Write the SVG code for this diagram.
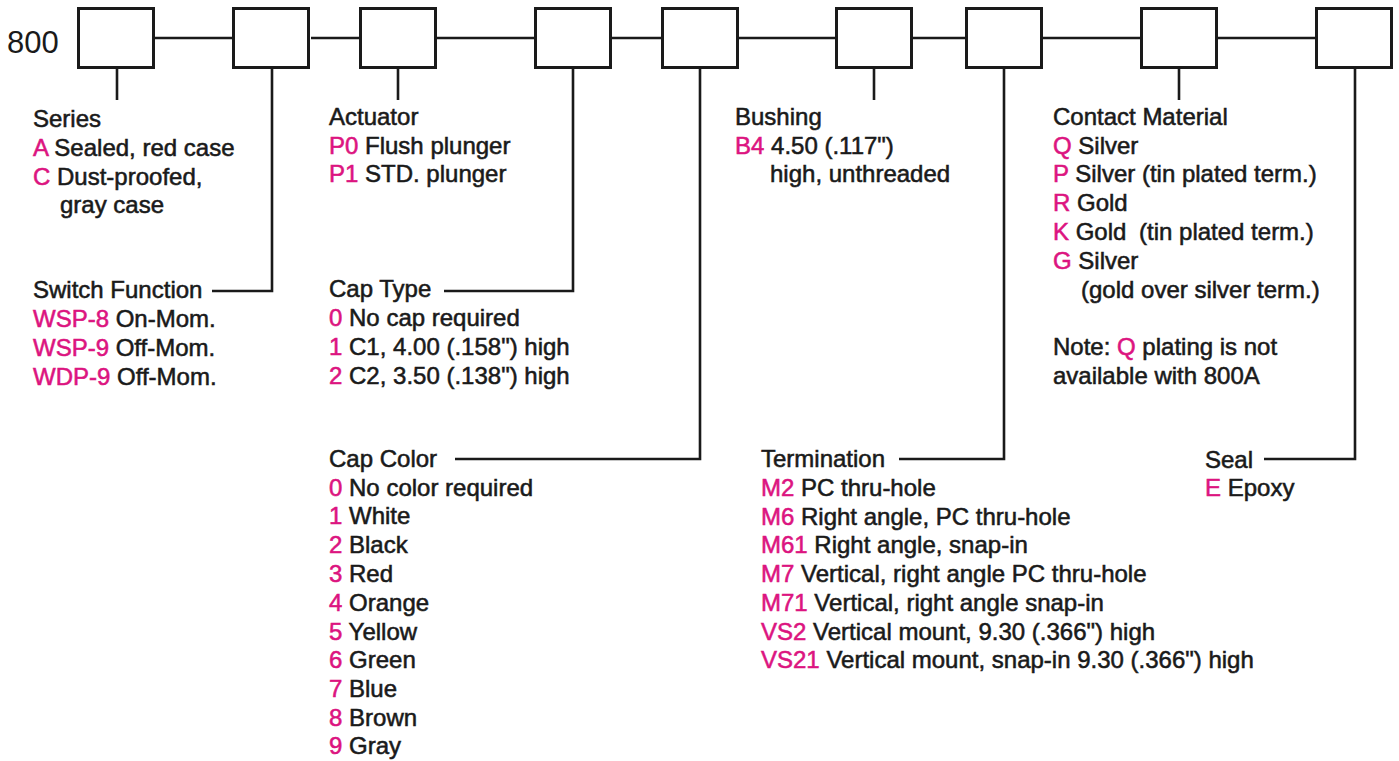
<svg xmlns="http://www.w3.org/2000/svg" width="1399" height="761" viewBox="0 0 1399 761">
<style>
.box{fill:#fff;stroke:#1a1a1a;stroke-width:3}
.ln{fill:none;stroke:#1a1a1a;stroke-width:2.6;stroke-linejoin:miter;stroke-linecap:butt}
text{font-family:"Liberation Sans",Arial,sans-serif;font-size:24px;fill:#1a1a1a;stroke:#1a1a1a;stroke-width:0.55}
.m{fill:#DC1480;stroke:#DC1480}
.big{font-size:31px;stroke-width:0}
</style>
<rect width="1399" height="761" fill="#fff"/>
<g id="connectors">
<path class="ln" d="M155 38H232M311 38H359M437 38H534M612 38H661M739 38H835M913 38H965M1043 38H1140M1218 38H1315"/>
<path class="ln" d="M117 69V100"/>
<path class="ln" d="M272 69V291H212"/>
<path class="ln" d="M398 69V100"/>
<path class="ln" d="M573 69V291H444"/>
<path class="ln" d="M700 69V459H455"/>
<path class="ln" d="M874 69V100"/>
<path class="ln" d="M1004 69V459H899"/>
<path class="ln" d="M1179 69V100"/>
<path class="ln" d="M1355 69V459H1264"/>
</g>
<g id="prefix"><text class="big" x="7" y="53">800</text></g>
<g id="box1"><rect class="box" x="78.5" y="8.5" width="75" height="59"/></g>
<g id="box2"><rect class="box" x="233.5" y="8.5" width="75" height="59"/></g>
<g id="box3"><rect class="box" x="360.5" y="8.5" width="75" height="59"/></g>
<g id="box4"><rect class="box" x="535.5" y="8.5" width="75" height="59"/></g>
<g id="box5"><rect class="box" x="662.5" y="8.5" width="75" height="59"/></g>
<g id="box6"><rect class="box" x="836.5" y="8.5" width="75" height="59"/></g>
<g id="box7"><rect class="box" x="966.5" y="8.5" width="75" height="59"/></g>
<g id="box8"><rect class="box" x="1141.5" y="8.5" width="75" height="59"/></g>
<g id="box9"><rect class="box" x="1316.5" y="8.5" width="75" height="59"/></g>

<g id="series">
<text x="33" y="127">Series</text>
<text x="33" y="156"><tspan class="m">A</tspan> Sealed, red case</text>
<text x="33" y="185"><tspan class="m">C</tspan> Dust-proofed,</text>
<text x="60" y="213">gray case</text>
</g>
<g id="switch-function">
<text x="33" y="298">Switch Function</text>
<text x="33" y="327"><tspan class="m">WSP-8</tspan> On-Mom.</text>
<text x="33" y="356"><tspan class="m">WSP-9</tspan> Off-Mom.</text>
<text x="33" y="385"><tspan class="m">WDP-9</tspan> Off-Mom.</text>
</g>
<g id="actuator">
<text x="329" y="125">Actuator</text>
<text x="329" y="154"><tspan class="m">P0</tspan> Flush plunger</text>
<text x="329" y="182"><tspan class="m">P1</tspan> STD. plunger</text>
</g>
<g id="cap-type">
<text x="329" y="297">Cap Type</text>
<text x="329" y="326"><tspan class="m">0</tspan> No cap required</text>
<text x="329" y="355"><tspan class="m">1</tspan> C1, 4.00 (.158") high</text>
<text x="329" y="384"><tspan class="m">2</tspan> C2, 3.50 (.138") high</text>
</g>
<g id="cap-color">
<text x="329" y="467">Cap Color</text>
<text x="329" y="496"><tspan class="m">0</tspan> No color required</text>
<text x="329" y="524"><tspan class="m">1</tspan> White</text>
<text x="329" y="553"><tspan class="m">2</tspan> Black</text>
<text x="329" y="582"><tspan class="m">3</tspan> Red</text>
<text x="329" y="611"><tspan class="m">4</tspan> Orange</text>
<text x="329" y="640"><tspan class="m">5</tspan> Yellow</text>
<text x="329" y="668"><tspan class="m">6</tspan> Green</text>
<text x="329" y="697"><tspan class="m">7</tspan> Blue</text>
<text x="329" y="726"><tspan class="m">8</tspan> Brown</text>
<text x="329" y="754"><tspan class="m">9</tspan> Gray</text>
</g>
<g id="bushing">
<text x="735" y="125">Bushing</text>
<text x="735" y="154"><tspan class="m">B4</tspan> 4.50 (.117")</text>
<text x="770" y="182">high, unthreaded</text>
</g>
<g id="termination">
<text x="761" y="467">Termination</text>
<text x="761" y="496"><tspan class="m">M2</tspan> PC thru-hole</text>
<text x="761" y="525"><tspan class="m">M6</tspan> Right angle, PC thru-hole</text>
<text x="761" y="553"><tspan class="m">M61</tspan> Right angle, snap-in</text>
<text x="761" y="582"><tspan class="m">M7</tspan> Vertical, right angle PC thru-hole</text>
<text x="761" y="611"><tspan class="m">M71</tspan> Vertical, right angle snap-in</text>
<text x="761" y="640"><tspan class="m">VS2</tspan> Vertical mount, 9.30 (.366") high</text>
<text x="761" y="668"><tspan class="m">VS21</tspan> Vertical mount, snap-in 9.30 (.366") high</text>
</g>
<g id="contact-material">
<text x="1053" y="125">Contact Material</text>
<text x="1053" y="154"><tspan class="m">Q</tspan> Silver</text>
<text x="1053" y="182"><tspan class="m">P</tspan> Silver (tin plated term.)</text>
<text x="1053" y="211"><tspan class="m">R</tspan> Gold</text>
<text x="1053" y="240"><tspan class="m">K</tspan> Gold <tspan dx="6">(tin plated term.)</tspan></text>
<text x="1053" y="269"><tspan class="m">G</tspan> Silver</text>
<text x="1081" y="298">(gold over silver term.)</text>
<text x="1053" y="355">Note: <tspan class="m">Q</tspan> plating is not</text>
<text x="1053" y="384">available with 800A</text>
</g>
<g id="seal">
<text x="1205" y="468">Seal</text>
<text x="1205" y="496"><tspan class="m">E</tspan> Epoxy</text>
</g>
</svg>
